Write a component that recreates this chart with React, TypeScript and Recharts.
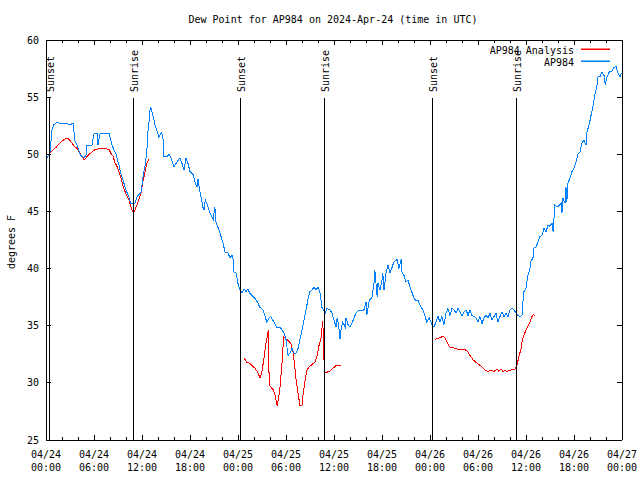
import React from 'react';
import { LineChart, Line, XAxis, YAxis, ReferenceLine } from 'recharts';

// hours since 04/24 00:00 UTC, dew point in deg F
const stationObs: [number, number][] = [
  [0.1, 49.7], [0.4, 50.0], [0.5, 50.2], [0.75, 52.1], [1.0, 52.6], [1.4, 52.8], [1.75, 52.7], [2.4, 52.7],
  [3.0, 52.6], [3.4, 52.7], [3.6, 51.2], [3.9, 50.8], [4.25, 50.0], [4.5, 49.8], [4.75, 49.7], [5.0, 49.9],
  [5.1, 50.8], [5.75, 50.8], [6.0, 51.8], [6.4, 51.8], [6.5, 50.8], [6.75, 51.8], [7.9, 51.8], [8.25, 50.8],
  [8.75, 50.0], [9.1, 49.1], [9.4, 48.2], [9.6, 47.8], [9.9, 47.1], [10.1, 46.7], [10.4, 46.2], [10.6, 45.7],
  [11.1, 45.7], [11.4, 46.3], [11.9, 46.7], [12.1, 47.9], [12.4, 49.1], [12.6, 50.2], [12.75, 52.0], [12.9, 53.0],
  [13.0, 53.9], [13.1, 54.1], [13.25, 53.7], [13.5, 53.0], [13.6, 52.6], [13.9, 52.0], [14.1, 51.5], [14.4, 51.9],
  [14.6, 51.7], [14.75, 49.8], [15.1, 49.8], [15.4, 50.0], [15.6, 49.7], [16.0, 48.9], [16.25, 49.2], [16.75, 49.7],
  [17.0, 49.2], [17.25, 48.6], [17.5, 49.7], [17.75, 49.2], [18.0, 48.5], [18.4, 48.2], [18.6, 47.6], [18.9, 47.1],
  [19.0, 47.8], [19.25, 46.7], [19.4, 46.2], [19.6, 45.4], [19.75, 45.1], [19.9, 46.0], [20.1, 45.7], [20.4, 45.1],
  [20.6, 44.7], [20.9, 44.3], [21.1, 45.4], [21.25, 44.1], [21.5, 43.6], [21.75, 43.1], [22.1, 42.3], [22.4, 41.4],
  [22.75, 41.4], [23.0, 40.9], [23.25, 41.2], [23.4, 40.8], [23.5, 39.7], [23.75, 39.6], [24.0, 38.7], [24.25, 38.1],
  [24.5, 37.9], [24.75, 38.2], [25.0, 38.0], [25.25, 38.2], [25.5, 37.8], [26.1, 37.4], [26.4, 37.1], [26.75, 36.6],
  [27.1, 36.4], [27.4, 35.8], [27.6, 35.3], [27.9, 35.7], [28.1, 35.8], [28.5, 35.3], [28.9, 34.8], [29.25, 34.9],
  [29.5, 34.6], [29.75, 34.4], [30.0, 33.8], [30.25, 32.4], [30.5, 32.6], [30.75, 33.0], [31.0, 32.6], [31.25, 32.6],
  [31.5, 33.0], [31.75, 33.8], [32.0, 34.6], [32.25, 35.5], [32.5, 36.4], [32.75, 37.3], [33.0, 38.0], [33.25, 38.1],
  [33.5, 38.4], [33.75, 38.1], [34.0, 38.4], [34.25, 37.9], [34.5, 36.6], [34.6, 36.5], [34.9, 36.1], [35.1, 36.5],
  [35.5, 36.4], [35.75, 36.1], [36.0, 35.5], [36.25, 34.9], [36.4, 35.7], [36.6, 34.9], [36.75, 33.8], [36.9, 34.8],
  [37.1, 35.3], [37.4, 34.9], [37.5, 35.7], [37.75, 35.1], [38.0, 34.9], [38.25, 35.2], [38.5, 35.7], [38.75, 36.1],
  [39.0, 36.3], [39.5, 36.3], [39.75, 36.4], [40.0, 37.1], [40.1, 35.9], [40.4, 37.2], [40.75, 37.5], [41.0, 38.7],
  [41.1, 39.9], [41.25, 38.7], [41.4, 37.5], [41.5, 38.7], [41.75, 38.1], [42.0, 39.0], [42.1, 39.6], [42.25, 38.1],
  [42.5, 39.6], [42.75, 40.3], [43.0, 39.6], [43.25, 40.1], [43.5, 40.6], [43.9, 40.8], [44.1, 40.0], [44.4, 40.8],
  [44.5, 39.7], [44.75, 39.4], [45.0, 38.8], [45.25, 39.0], [45.5, 38.4], [45.75, 37.9], [46.0, 37.4], [46.25, 37.2],
  [46.5, 37.2], [46.75, 36.8], [47.1, 36.4], [47.4, 35.8], [47.6, 35.3], [47.9, 35.7], [48.25, 35.1], [48.5, 34.9],
  [48.75, 35.3], [49.0, 35.8], [49.25, 35.3], [49.5, 35.8], [49.75, 35.1], [50.0, 36.1], [50.25, 36.5], [50.5, 35.9],
  [50.75, 36.5], [51.0, 36.4], [51.25, 36.1], [51.5, 36.5], [51.75, 36.2], [52.0, 35.9], [52.25, 36.2], [52.5, 36.4],
  [52.75, 35.9], [53.0, 36.4], [53.25, 35.9], [53.5, 35.8], [53.75, 35.7], [54.0, 35.3], [54.25, 35.8], [54.5, 35.2],
  [54.75, 35.7], [55.0, 35.9], [55.25, 35.7], [55.5, 36.1], [55.75, 35.5], [56.0, 35.8], [56.25, 36.1], [56.5, 35.3],
  [56.75, 35.8], [57.0, 36.2], [57.25, 35.8], [57.5, 36.1], [57.75, 35.8], [58.0, 36.4], [58.25, 36.5], [58.5, 36.4],
  [58.75, 36.1], [59.0, 35.9], [59.25, 35.8], [59.5, 35.9], [59.6, 37.0], [59.75, 38.0], [60.0, 38.3], [60.1, 38.8],
  [60.25, 39.4], [60.5, 40.0], [60.6, 40.6], [60.9, 41.0], [61.0, 41.8], [61.25, 41.9], [61.5, 42.3], [61.75, 42.8],
  [62.0, 42.9], [62.25, 43.5], [62.5, 43.2], [62.75, 43.8], [63.0, 43.7], [63.25, 44.0], [63.4, 43.2], [63.6, 45.6],
  [63.9, 45.4], [64.1, 45.5], [64.4, 45.7], [64.5, 44.9], [64.6, 46.2], [64.9, 45.7], [65.0, 47.1], [65.1, 45.8],
  [65.25, 47.5], [65.5, 47.9], [65.75, 48.5], [66.0, 48.8], [66.25, 49.3], [66.5, 50.0], [66.75, 50.2], [67.0, 51.0],
  [67.25, 51.2], [67.5, 50.8], [67.6, 51.9], [67.9, 52.6], [68.1, 53.3], [68.4, 54.3], [68.6, 55.2], [68.9, 56.1],
  [69.0, 56.8], [69.25, 56.8], [69.5, 57.2], [69.75, 56.9], [69.9, 56.1], [70.1, 56.7], [70.4, 57.2], [70.75, 57.3],
  [71.0, 57.6], [71.25, 57.7], [71.5, 57.1], [71.75, 56.8], [71.9, 57.1],
];

// analysis runs (three separate pieces)
const analysisRun1: [number, number][] = [
  [0.4, 50.1], [0.5, 50.1], [0.9, 50.4], [1.25, 50.6], [1.75, 51.0], [2.1, 51.2], [2.5, 51.4], [2.75, 51.4],
  [3.0, 51.2], [3.25, 51.0], [3.5, 50.7], [3.9, 50.5], [4.25, 50.1], [4.5, 49.8], [4.75, 49.5], [5.0, 49.7],
  [5.4, 50.0], [5.75, 50.2], [6.1, 50.4], [6.75, 50.5], [7.4, 50.5], [7.9, 50.4], [8.1, 50.1], [8.4, 49.8],
  [8.6, 49.3], [8.9, 48.9], [9.1, 48.5], [9.4, 47.9], [9.6, 47.3], [9.9, 46.7], [10.1, 46.4], [10.4, 46.0],
  [10.6, 45.4], [10.9, 44.9], [11.1, 45.1], [11.4, 45.6], [11.6, 46.0], [11.9, 46.7], [12.1, 47.6], [12.4, 48.5],
  [12.6, 49.2], [12.9, 49.6],
];
const analysisRun2: [number, number][] = [
  [24.75, 32.2], [25.1, 31.8], [25.5, 31.7], [25.9, 31.4], [26.1, 31.3], [26.5, 30.9], [26.75, 30.4], [27.0, 31.0],
  [27.25, 32.2], [27.5, 33.5], [27.8, 34.6], [27.9, 29.8], [28.4, 29.4], [28.6, 29.0], [28.9, 28.0], [29.2, 29.2],
  [29.5, 31.7], [29.7, 34.0], [30.1, 33.8], [30.4, 33.6], [30.6, 33.5], [30.9, 32.6], [31.1, 31.4], [31.25, 30.3],
  [31.5, 29.1], [31.75, 28.0], [32.0, 28.0], [32.1, 28.8], [32.4, 30.3], [32.6, 31.1], [32.9, 31.4], [33.25, 31.6],
  [33.6, 31.8], [33.9, 32.4], [34.1, 33.2], [34.4, 34.0], [34.5, 34.8], [34.6, 35.4], [34.8, 30.9], [35.0, 30.9],
  [35.4, 31.0], [35.6, 31.1], [35.9, 31.3], [36.25, 31.5], [36.5, 31.5], [36.9, 31.5],
];
const analysisRun3: [number, number][] = [
  [48.6, 33.8], [49.0, 33.9], [49.4, 34.0], [49.6, 34.1], [49.9, 33.9], [50.1, 33.6], [50.4, 33.2], [50.6, 33.1],
  [50.9, 33.1], [51.1, 33.0], [51.75, 32.9], [52.4, 32.9], [52.75, 32.7], [53.0, 32.4], [53.4, 32.0], [53.75, 31.8],
  [54.1, 31.6], [54.5, 31.4], [54.9, 31.1], [55.25, 31.0], [55.6, 31.1], [56.0, 31.0], [56.4, 31.2], [56.6, 31.0],
  [56.9, 31.2], [57.1, 31.0], [57.4, 31.1], [57.6, 31.0], [58.0, 31.1], [58.4, 31.2], [58.6, 31.2], [58.9, 31.6],
  [59.1, 32.3], [59.4, 33.0], [59.5, 33.6], [59.75, 34.2], [60.0, 34.6], [60.25, 35.0], [60.5, 35.3], [60.75, 35.8],
  [60.9, 36.0], [61.1, 35.9],
];

const sunEvents: { label: string; h: number }[] = [
  { label: 'Sunset', h: 0.4 },
  { label: 'Sunrise', h: 10.9 },
  { label: 'Sunset', h: 24.3 },
  { label: 'Sunrise', h: 34.8 },
  { label: 'Sunset', h: 48.3 },
  { label: 'Sunrise', h: 58.8 },
];

const xTicks = [0, 2, 4, 6, 8, 10, 12, 14, 16, 18, 20, 22, 24, 26, 28, 30, 32, 34, 36, 38, 40, 42, 44, 46, 48, 50, 52, 54, 56, 58, 60, 62, 64, 66, 68, 70, 72];
const yTicks = [25, 30, 35, 40, 45, 50, 55, 60];

const FONT = '"DejaVu Sans Mono", "Liberation Mono", monospace';
const RED = '#ff0000';
const BLUE = '#0080ff';

const toPoints = (rows: [number, number][]) => rows.map(([h, v]) => ({ h, v }));

const dayLabel = (h: number) => `04/${24 + Math.floor(h / 24)}`;
const hourLabel = (h: number) => `${String(h % 24).padStart(2, '0')}:00`;

const BottomTick = (props: any) => {
  const { x, y, payload } = props;
  const major = payload.value % 6 === 0;
  return (
    <g>
      <line x1={x} y1={y} x2={x} y2={y - (major ? 5 : 3)} stroke="#000" shapeRendering="crispEdges" />
      {major && (
        <text x={x} y={y + 18} textAnchor="middle" fontFamily={FONT} fontSize={10} fill="#000">
          <tspan x={x}>{dayLabel(payload.value)}</tspan>
          <tspan x={x} dy={13}>{hourLabel(payload.value)}</tspan>
        </text>
      )}
    </g>
  );
};

const TopTick = (props: any) => {
  const { x, y, payload } = props;
  const major = payload.value % 6 === 0;
  return <line x1={x} y1={y} x2={x} y2={y + (major ? 5 : 3)} stroke="#000" shapeRendering="crispEdges" />;
};

const LeftTick = (props: any) => {
  const { x, y, payload } = props;
  return (
    <g>
      <line x1={x} y1={y} x2={x + 5} y2={y} stroke="#000" shapeRendering="crispEdges" />
      <text x={x - 7} y={y + 3.5} textAnchor="end" fontFamily={FONT} fontSize={10} fill="#000">
        {payload.value}
      </text>
    </g>
  );
};

const RightTick = (props: any) => {
  const { x, y } = props;
  return <line x1={x} y1={y} x2={x - 5} y2={y} stroke="#000" shapeRendering="crispEdges" />;
};

const sunShape = (label: string) => (p: any) => {
  const top = Math.min(p.y1, p.y2);
  const bottom = Math.max(p.y1, p.y2);
  const x = p.x1;
  return (
    <g>
      <line x1={x} y1={top + 58} x2={x} y2={bottom} stroke="#000" shapeRendering="crispEdges" />
      <text
        x={x + 4.5}
        y={top + 52}
        transform={`rotate(-90 ${x + 4.5} ${top + 52})`}
        fontFamily={FONT}
        fontSize={10}
        fill="#000"
      >
        {label}
      </text>
    </g>
  );
};

const axisLine = { stroke: '#000', shapeRendering: 'crispEdges' };

export default function App() {
  return (
    <div style={{ position: 'absolute', left: 0, top: 0, width: 640, height: 480, background: '#fff' }}>
      <LineChart width={640} height={480} margin={{ top: 0, right: 0, bottom: 0, left: 0 }}>
        <XAxis
          dataKey="h"
          type="number"
          domain={[0, 72]}
          ticks={xTicks}
          interval={0}
          height={40}
          tickSize={0}
          tickMargin={0}
          tick={BottomTick}
          axisLine={axisLine}
          allowDataOverflow
        />
        <XAxis
          xAxisId="top"
          orientation="top"
          dataKey="h"
          type="number"
          domain={[0, 72]}
          ticks={xTicks}
          interval={0}
          height={40}
          tickSize={0}
          tickMargin={0}
          tick={TopTick}
          axisLine={axisLine}
          allowDataOverflow
        />
        <YAxis
          type="number"
          domain={[25, 60]}
          ticks={yTicks}
          interval={0}
          width={46}
          tickSize={0}
          tickMargin={0}
          tick={LeftTick}
          axisLine={axisLine}
          allowDataOverflow
        />
        <YAxis
          yAxisId="right"
          orientation="right"
          type="number"
          domain={[25, 60]}
          ticks={yTicks}
          interval={0}
          width={18}
          tickSize={0}
          tickMargin={0}
          tick={RightTick}
          axisLine={axisLine}
          allowDataOverflow
        />
        <Line data={toPoints(analysisRun1)} dataKey="v" type="linear" stroke={RED} strokeWidth={1} shapeRendering="crispEdges" dot={false} isAnimationActive={false} />
        <Line data={toPoints(analysisRun2)} dataKey="v" type="linear" stroke={RED} strokeWidth={1} shapeRendering="crispEdges" dot={false} isAnimationActive={false} />
        <Line data={toPoints(analysisRun3)} dataKey="v" type="linear" stroke={RED} strokeWidth={1} shapeRendering="crispEdges" dot={false} isAnimationActive={false} />
        <Line data={toPoints(stationObs)} dataKey="v" type="linear" stroke={BLUE} strokeWidth={1} shapeRendering="crispEdges" dot={false} isAnimationActive={false} />
        {sunEvents.map((e, i) => (
          <ReferenceLine key={i} x={e.h} stroke="#000" shape={sunShape(e.label)} />
        ))}
      </LineChart>
      <svg width={640} height={480} style={{ position: 'absolute', left: 0, top: 0, pointerEvents: 'none' }}>
        <text x={333} y={23} textAnchor="middle" fontFamily={FONT} fontSize={10} fill="#000">
          Dew Point for AP984 on 2024-Apr-24 (time in UTC)
        </text>
        <text x={15} y={242} transform="rotate(-90 15 242)" textAnchor="middle" fontFamily={FONT} fontSize={10} fill="#000">
          degrees F
        </text>
        <text x={574} y={54} textAnchor="end" fontFamily={FONT} fontSize={10} fill="#000">AP984 Analysis</text>
        <rect x={581} y={48.5} width={29} height={1.5} fill={RED} />
        <text x={574} y={66} textAnchor="end" fontFamily={FONT} fontSize={10} fill="#000">AP984</text>
        <rect x={581} y={60.5} width={29} height={1.5} fill={BLUE} />
      </svg>
    </div>
  );
}
